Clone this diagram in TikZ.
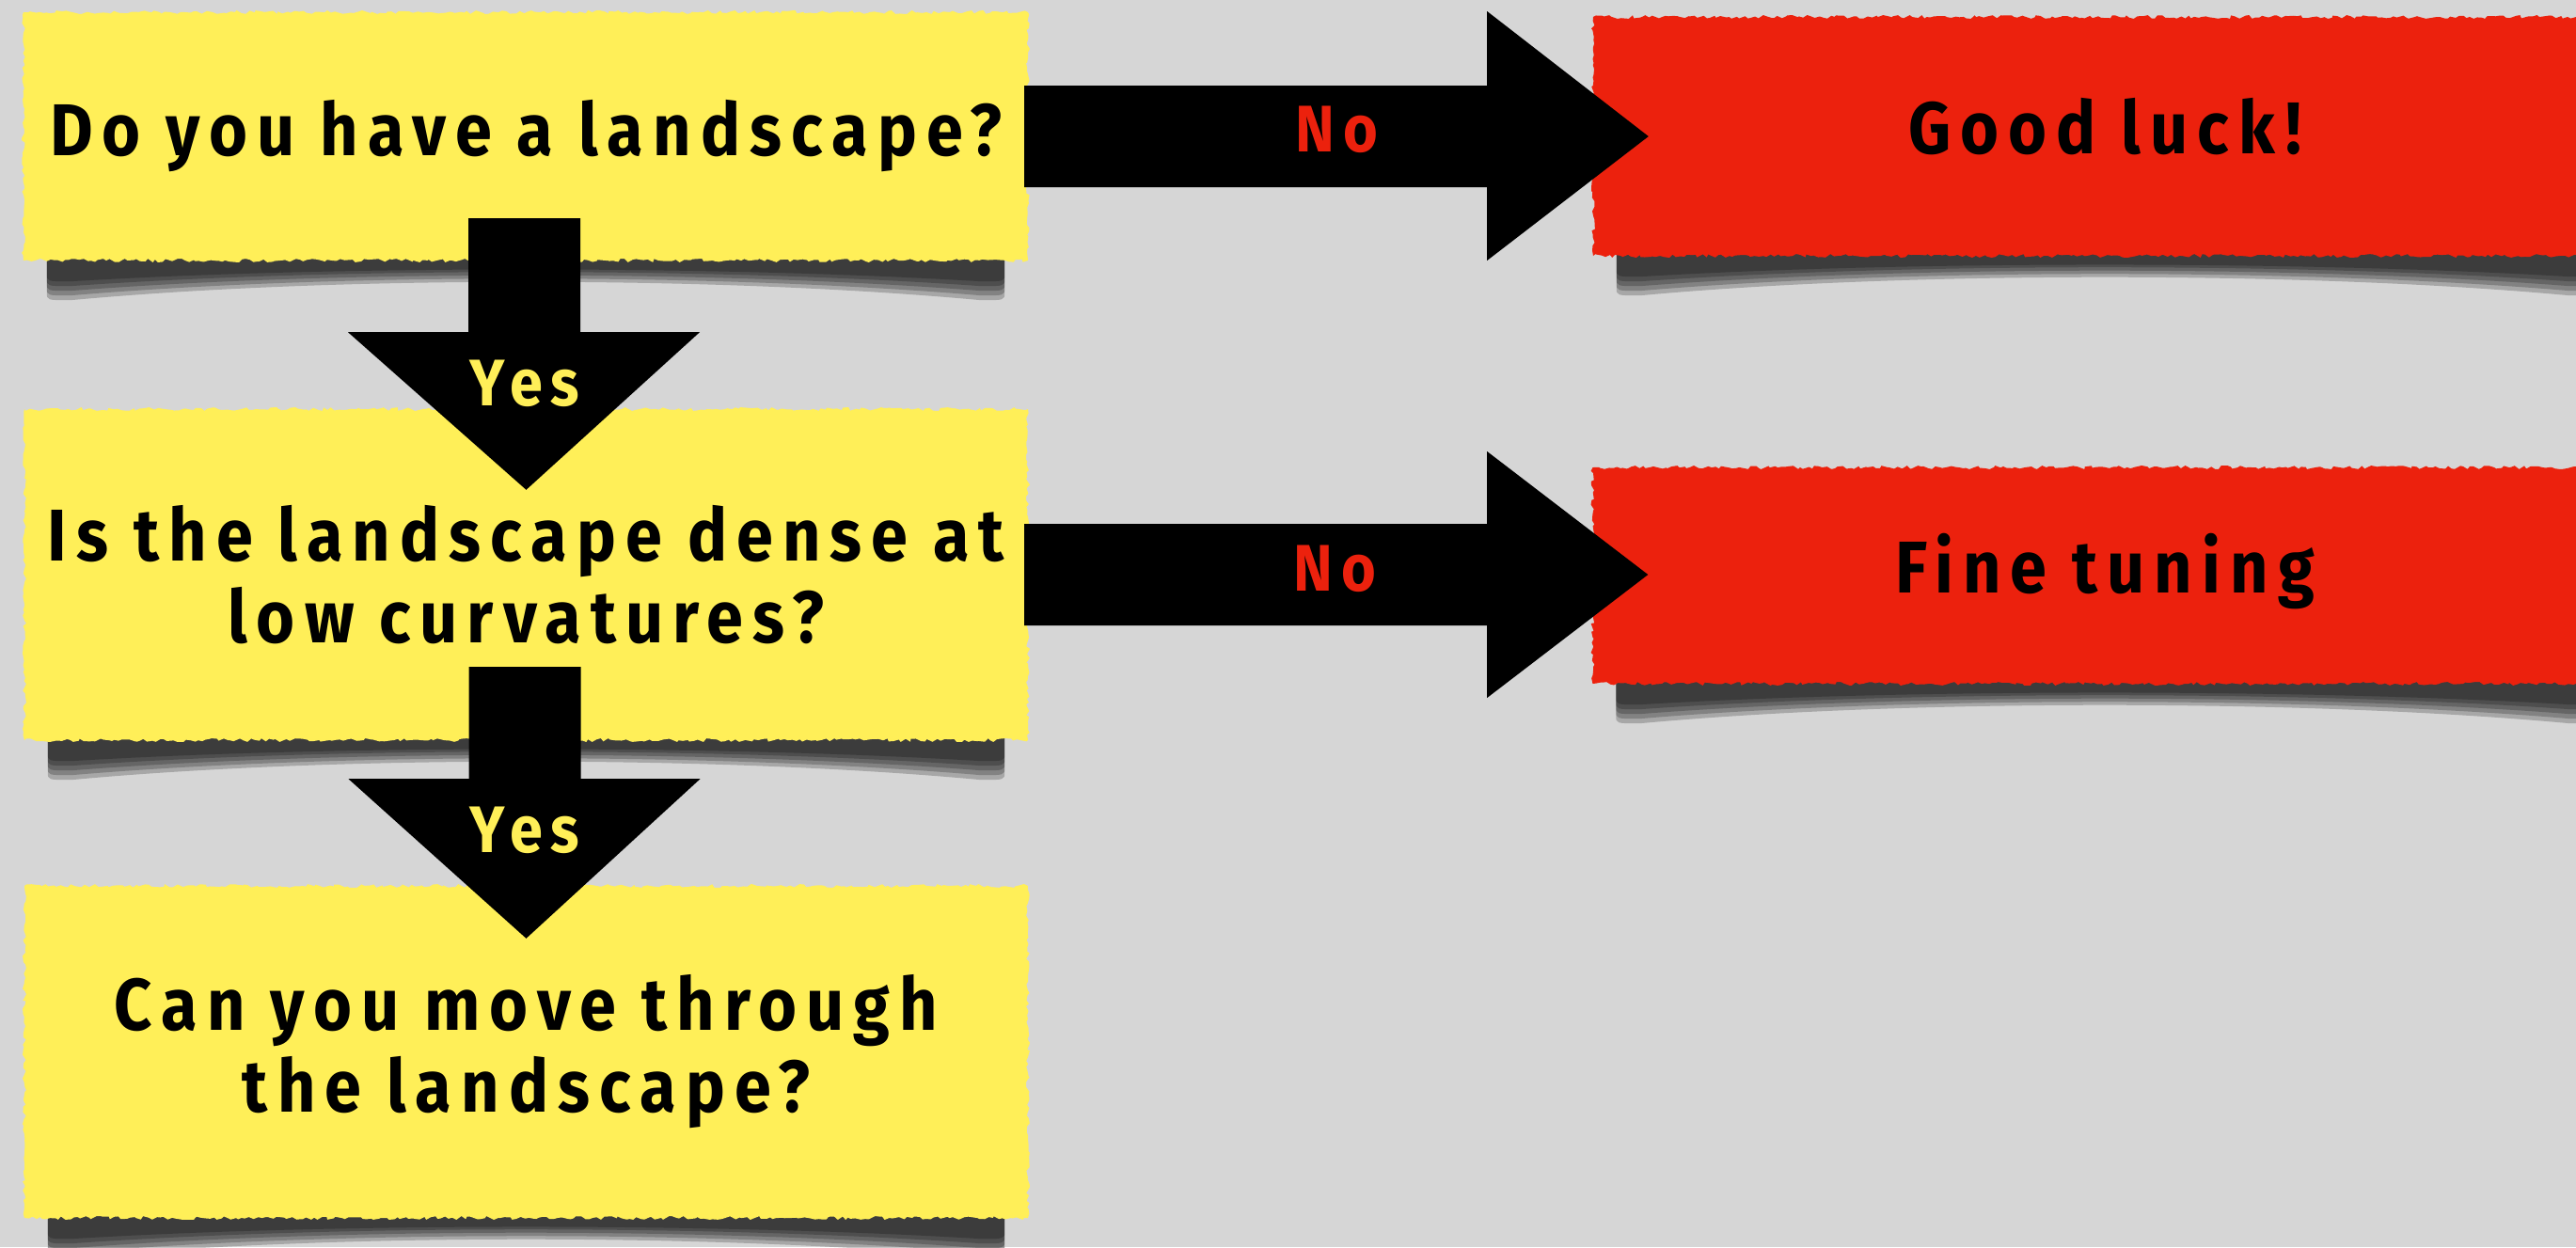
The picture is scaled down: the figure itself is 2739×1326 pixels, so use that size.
\documentclass[tikz,border=0pt]{standalone}
\usepackage{fontspec}
\setmainfont{Fira Sans}[FakeStretch=0.9, LetterSpace=13]
\usetikzlibrary{calc,decorations.pathmorphing}
\definecolor{bg}{RGB}{214,214,214}
\definecolor{ylw}{RGB}{255,239,88}
\definecolor{rd}{RGB}{236,33,13}
\pgfdeclarelayer{back}
\pgfsetlayers{back,main}
\tikzset{
  paper/.style={inner sep=0pt, decorate,
    decoration={random steps, segment length=4pt, amplitude=2pt},
    font={\bfseries\fontsize{78}{87}\selectfont}, align=center},
  qbox/.style={paper, fill=ylw},
  abox/.style={paper, fill=rd, text height=58pt, text depth=22pt},
  blockarrow/.style={fill=black},
  nolabel/.style={text=rd, inner sep=0pt, font={\bfseries\fontsize{70}{70}\selectfont}},
  yeslabel/.style={text=ylw, inner sep=0pt, font={\bfseries\fontsize{70}{70}\selectfont}},
}
\newcommand\curlshadow[1]{%
  \foreach \e/\m in {42/16, 37/13, 32/10, 27/7, 22/5} {
    \fill[black, opacity=0.22] ($(#1.south west)+(25,-20)$) -- ($(#1.south west)+(25,\e-8)$)
      .. controls ($(#1.south west)+(25,\e)$) .. ($(#1.south west)+(50,\e)$)
      .. controls ($(#1.south west)+(330,\m)$) and ($(#1.south east)+(-330,\m)$) ..
      ($(#1.south east)+(-50,\e)$) .. controls ($(#1.south east)+(-25,\e)$) ..
      ($(#1.south east)+(-25,\e-8)$) -- ($(#1.south east)+(-25,-20)$) -- cycle;
  }%
}
\begin{document}
\begin{tikzpicture}[x=1pt,y=-1pt]
\pgfmathsetseed{7}
\useasboundingbox (0,0) rectangle (2739,1326);
\clip (0,0) rectangle (2739,1326);

% boxes
\node[qbox, minimum width=1068pt, minimum height=264pt] (q1) at (559,145) {Do you have a landscape?};
\node[qbox, minimum width=1067pt, minimum height=352pt] (q2) at (559.5,611) {Is the landscape dense at\\low curvatures?};
\node[qbox, minimum width=1067pt, minimum height=353pt] (q3) at (559.5,1118.5) {Can you move through\\the landscape?};
\node[abox, minimum width=1088pt, minimum height=254pt] (r1) at (2238,145) {Good luck!};
\node[abox, minimum width=1089pt, minimum height=230pt] (r2) at (2238,612) {Fine tuning};

\begin{pgfonlayer}{back}
  \fill[bg] (0,0) rectangle (2739,1326);
  \curlshadow{q1}
  \curlshadow{q2}
  \curlshadow{q3}
  \curlshadow{r1}
  \curlshadow{r2}
\end{pgfonlayer}

% horizontal arrows
\fill[blockarrow] ($(q1.east)+(-4,-54)$) -- ($(q1.east)+(488,-54)$) -- ($(q1.east)+(488,-133)$)
  -- ($(r1.west)+(59,0)$) -- ($(q1.east)+(488,132)$) -- ($(q1.east)+(488,54)$) -- ($(q1.east)+(-4,54)$) -- cycle;
\fill[blockarrow] ($(q2.east)+(-4,-54)$) -- ($(q2.east)+(488,-54)$) -- ($(q2.east)+(488,-131)$)
  -- ($(r2.west)+(59,-1)$) -- ($(q2.east)+(488,131)$) -- ($(q2.east)+(488,54)$) -- ($(q2.east)+(-4,54)$) -- cycle;

% vertical arrows
\fill[blockarrow] ($(q1.south)+(-61,-45)$) -- ($(q1.south)+(58,-45)$) -- ($(q1.south)+(58,76)$)
  -- ($(q1.south)+(185,76)$) -- ($(q2.north)+(0,86)$) -- ($(q1.south)+(-189,76)$)
  -- ($(q1.south)+(-61,76)$) -- cycle;
\fill[blockarrow] ($(q2.south)+(-61,-78)$) -- ($(q2.south)+(58,-78)$) -- ($(q2.south)+(58,41)$)
  -- ($(q2.south)+(185,41)$) -- ($(q3.north)+(0,56)$) -- ($(q2.south)+(-189,41)$)
  -- ($(q2.south)+(-61,41)$) -- cycle;

% labels
\node[nolabel] (no1) at (1421,137.5) {No};
\node[nolabel] (no2) at (1419,605) {No};
\node[yeslabel] (yes1) at (558,408) {Yes};
\node[yeslabel] (yes2) at (558,883) {Yes};
\end{tikzpicture}
\end{document}
